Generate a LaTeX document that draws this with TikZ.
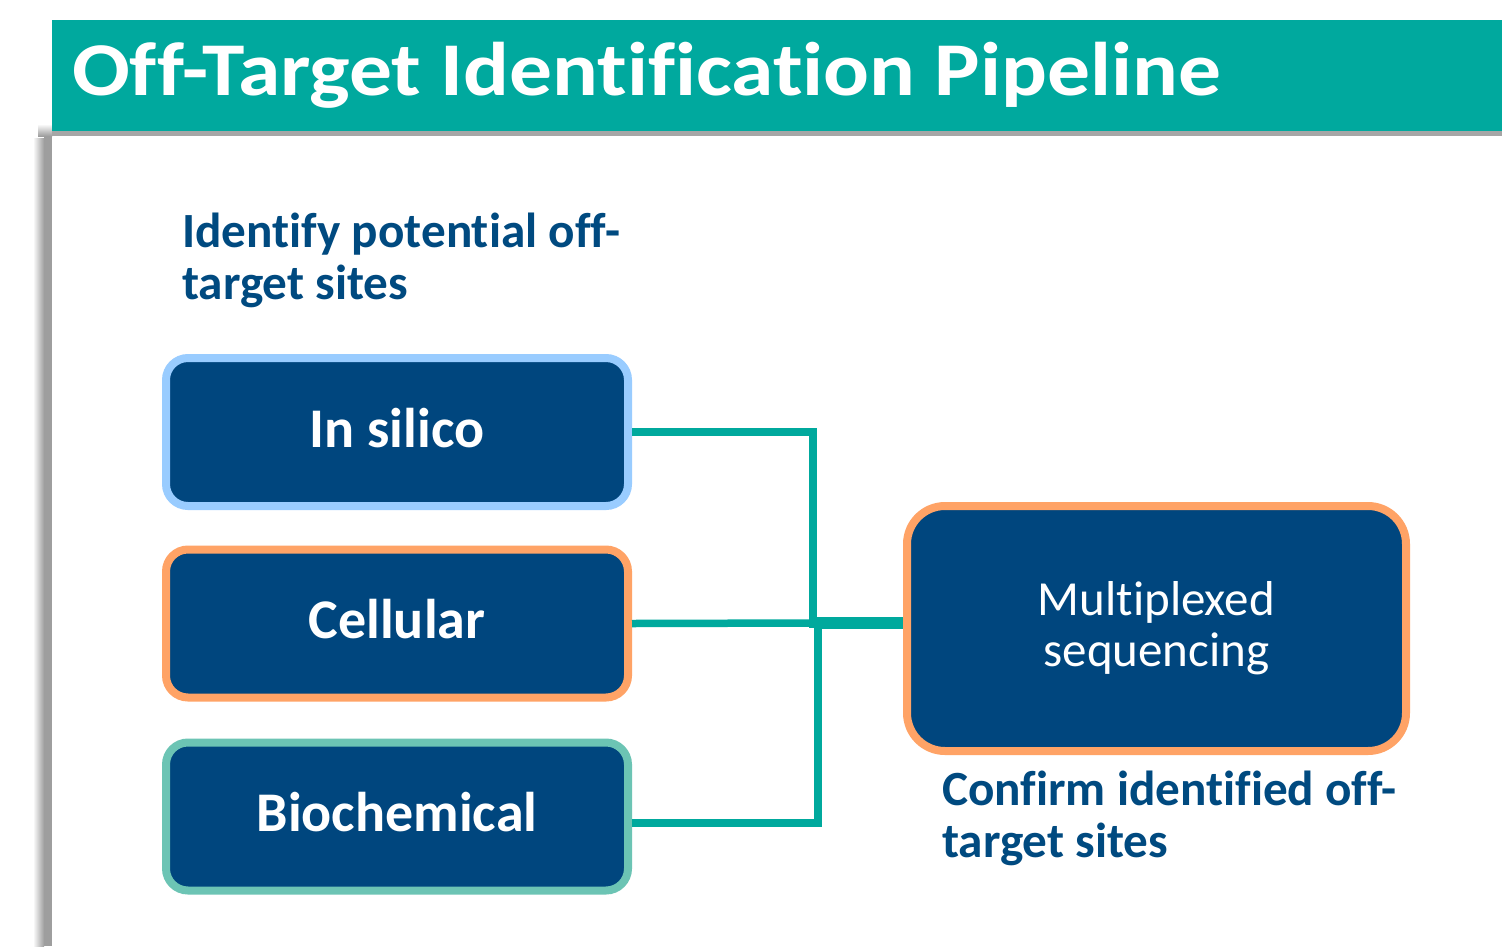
\documentclass[tikz,border=0pt]{standalone}
\usepackage{fontspec}
\setmainfont{Carlito}[Ligatures={NoCommon,NoDiscretionary}]
\newfontfamily\titlefam{Carlito}[Ligatures={NoCommon,NoDiscretionary}, FakeStretch=1.125]
\usetikzlibrary{calc}

\definecolor{bannerteal}{HTML}{00A99E}
\definecolor{navy}{HTML}{00467E}
\definecolor{labelnavy}{HTML}{004A80}
\definecolor{skyedge}{HTML}{99CCFF}
\definecolor{orangeedge}{HTML}{FFA366}
\definecolor{mintedge}{HTML}{6CC4B4}
\definecolor{linkteal}{HTML}{00A99D}
\definecolor{shadowgrey}{HTML}{9E9E9E}
\definecolor{ruleggrey}{HTML}{A6A6A6}

\tikzset{
  methodbox/.style={fill=navy, line width=8pt, rounded corners=22pt,
    minimum width=462pt, minimum height=148pt, inner sep=0pt,
    text height=42pt, text depth=12pt,
    text=white, font=\bfseries\fontsize{56}{60}\selectfont},
  seqbox/.style={fill=navy, draw=orangeedge, line width=8pt, rounded corners=38pt,
    minimum width=499pt, minimum height=245pt, inner sep=0pt, align=center,
    text=white, font=\fontsize{49}{51}\selectfont},
  caption/.style={anchor=north west, inner sep=0pt, align=left, text=labelnavy,
    font=\bfseries\fontsize{49.2}{52}\selectfont},
  conn/.style={draw=linkteal, line width=7.5pt},
  trunk/.style={draw=linkteal, line width=12.5pt},
}

\begin{document}
\begin{tikzpicture}[x=1pt, y=-1pt]
  \useasboundingbox (0,0) rectangle (1502,946);
  \fill[white] (0,0) rectangle (1502,946);

  % slide shadow on the left edge
  \shade[left color=white, right color=shadowgrey] (33,138) rectangle (44,946);
  \fill[shadowgrey] (44,136) rectangle (52,946);
  \shade[top color=white, bottom color=shadowgrey] (38,124) rectangle (52,136);

  % title banner
  \fill[bannerteal] (52,20) rectangle (1502,131);
  \fill[ruleggrey] (52,131) rectangle (1502,136);
  \node[anchor=base west, inner sep=0pt, text=white,
        font=\titlefam\bfseries\fontsize{76}{80}\selectfont] (title) at (72,95)
        {Off-Target Identification Pipeline};

  % captions
  \node[caption] (findcap) at (182,213) {Identify potential off-\\target sites};
  \node[caption] (confcap) at (942,771) {Confirm identified off-\\target sites};

  % method boxes
  \node[methodbox, draw=skyedge]    (silico)   at (397,432)   {In silico};
  \node[methodbox, draw=orangeedge] (cellular) at (397,623.5) {Cellular};
  \node[methodbox, draw=mintedge]   (biochem)  at (397,816.5) {Biochemical};

  % sequencing box
  \node[seqbox] (multi) at (1156.5,628.5) {Multiplexed\\sequencing};

  % junction points
  \coordinate (hub) at (815,623);
  \coordinate (topjoin) at (813,628);
  \coordinate (botjoin) at (818,619);

  % connectors
  \draw[conn] (silico.east) -| (topjoin);
  \draw[conn] ([yshift=-6.5pt]biochem.east) -| (botjoin);
  \draw[conn] (cellular.east) -- (hub);
  \draw[trunk] (hub) -- (multi.west |- hub);
\end{tikzpicture}
\end{document}
